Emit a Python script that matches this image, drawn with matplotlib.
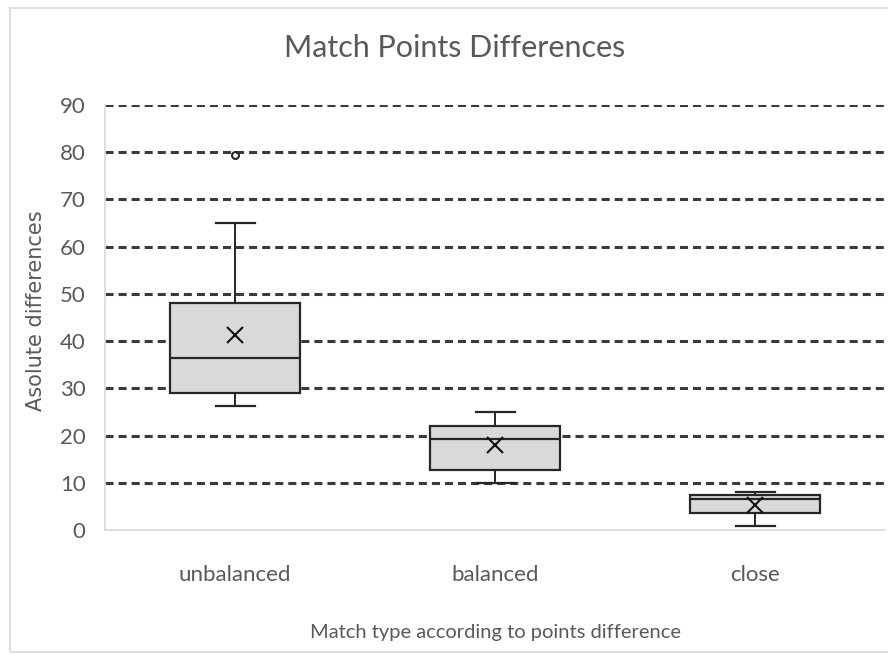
import matplotlib
matplotlib.use('Agg')
import matplotlib.pyplot as plt
from matplotlib.patches import Rectangle

# data
categories = ['unbalanced', 'balanced', 'close']
whisker_low = [26.3, 10.0, 0.9]
q1 = [29.0, 12.7, 3.5]
median = [36.4, 19.2, 6.5]
q3 = [48.0, 22.1, 7.5]
whisker_high = [65.0, 25.0, 8.0]
means = [41.3, 18.0, 5.3]
outliers = [[79.4], [], []]
y_ticks = [0, 10, 20, 30, 40, 50, 60, 70, 80, 90]

plt.rcParams['font.family'] = ['Lato', 'DejaVu Sans']
plt.rcParams['lines.scale_dashes'] = False
text_gray = '#595959'

fig = plt.figure(figsize=(8.88, 6.54), dpi=100)
ax = fig.add_axes([105 / 888, 1 - 530 / 654, 780 / 888, 425 / 654])

# dashed gridlines (not at 0)
for t in y_ticks[1:]:
    ax.axhline(t, color='#3a3a3a', lw=2.2, linestyle=(0, (5.8, 3.6)), zorder=1)

stats = []
for i, name in enumerate(categories):
    stats.append({
        'label': name,
        'whislo': whisker_low[i],
        'q1': q1[i],
        'med': median[i],
        'q3': q3[i],
        'whishi': whisker_high[i],
        'mean': means[i],
        'fliers': outliers[i],
    })

edge = '#262626'
ax.bxp(stats, positions=[1, 2, 3], widths=0.5, patch_artist=True,
       showmeans=True, showfliers=True,
       boxprops=dict(facecolor='#d9d9d9', edgecolor=edge, linewidth=1.6),
       medianprops=dict(color=edge, linewidth=1.6),
       whiskerprops=dict(color=edge, linewidth=1.4),
       capprops=dict(color=edge, linewidth=1.6),
       capwidths=0.15,
       meanprops=dict(marker='x', markeredgecolor='#111111', markersize=11,
                      markeredgewidth=1.5),
       flierprops=dict(marker='o', markerfacecolor='none', markeredgecolor=edge,
                       markersize=5, markeredgewidth=1.5),
       zorder=3)

ax.set_xlim(0.5, 3.5)
ax.set_ylim(0, 90)
ax.set_yticks(y_ticks)
ax.set_xticks([1, 2, 3])
ax.set_xticklabels(categories)
ax.tick_params(axis='both', length=0, labelsize=16, colors=text_gray)
ax.tick_params(axis='y', pad=14)
ax.tick_params(axis='x', pad=25)

for s in ['top', 'right']:
    ax.spines[s].set_visible(False)
for s in ['left', 'bottom']:
    ax.spines[s].set_color('#d9d9d9')
    ax.spines[s].set_linewidth(1.2)

ax.set_ylabel('Asolute differences', fontsize=15, color=text_gray,
              family='DejaVu Sans', labelpad=6)
ax.yaxis.set_label_coords(-0.075, 0.515)
ax.set_xlabel('Match type according to points difference', fontsize=14.5,
              color=text_gray, labelpad=28)
fig.text(455 / 888, 1 - 48 / 654, 'Match Points Differences', fontsize=22,
         color=text_gray, ha='center', va='center')

# outer chart frame
fig.patches.append(Rectangle((10 / 888, 1 - 652 / 654), 890 / 888, 644 / 654,
                             transform=fig.transFigure, fill=False,
                             edgecolor='#d9d9d9', linewidth=1.2))

fig.savefig('out.png', dpi=100)
